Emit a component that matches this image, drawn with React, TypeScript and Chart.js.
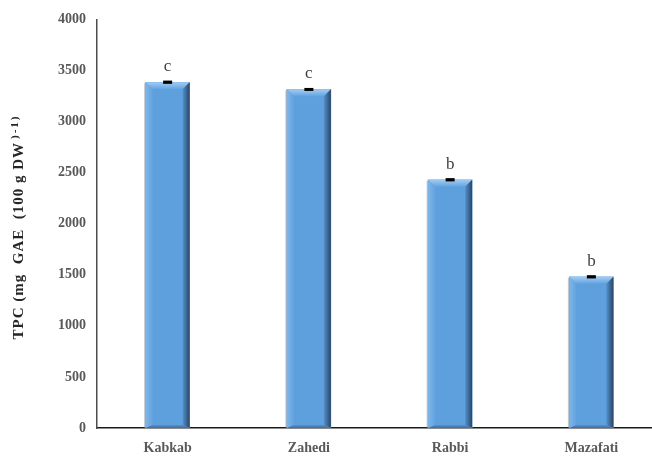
import React, { useEffect, useRef } from "react";
import { Chart, registerables } from "chart.js";

Chart.register(...registerables);

// Total phenolic content by date cultivar
const cultivars = ["Kabkab", "Zahedi", "Rabbi", "Mazafati"];
const tpcValues = [3385, 3315, 2430, 1480];
const tpcErrors = [16, 14, 16, 16];
const sigLetters = ["c", "c", "b", "b"];
const yTicks = [0, 500, 1000, 1500, 2000, 2500, 3000, 3500, 4000];

const SERIF = '"Liberation Serif", "Times New Roman", serif';
const BAR_FACE = "#5EA0DE";

// Bevelled bar faces, error caps and significance letters
const barDecor = {
  id: "barDecor",
  afterDatasetsDraw(chart: any) {
    const ctx = chart.ctx as CanvasRenderingContext2D;
    const meta = chart.getDatasetMeta(0);
    const yScale = chart.scales.y;
    meta.data.forEach((bar: any, i: number) => {
      const { x, y, base, width } = bar.getProps(["x", "y", "base", "width"], true);
      const l = x - width / 2;
      const r = x + width / 2;
      const t = y;
      const b = base;
      const bv = 7;
      ctx.save();
      // left shadow line
      ctx.fillStyle = "rgba(120,135,150,0.45)";
      ctx.fillRect(l - 1.5, t + 1, 1.5, b - t - 1);
      // top bevel
      let g = ctx.createLinearGradient(0, t, 0, t + bv);
      g.addColorStop(0, "#a2cdf3");
      g.addColorStop(1, "#62a3e0");
      ctx.fillStyle = g;
      ctx.beginPath();
      ctx.moveTo(l, t);
      ctx.lineTo(r, t);
      ctx.lineTo(r - bv, t + bv);
      ctx.lineTo(l + bv, t + bv);
      ctx.closePath();
      ctx.fill();
      // left bevel
      g = ctx.createLinearGradient(l, 0, l + bv, 0);
      g.addColorStop(0, "#7fb6e8");
      g.addColorStop(1, "#62a3e0");
      ctx.fillStyle = g;
      ctx.beginPath();
      ctx.moveTo(l, t);
      ctx.lineTo(l + bv, t + bv);
      ctx.lineTo(l + bv, b - 3);
      ctx.lineTo(l, b);
      ctx.closePath();
      ctx.fill();
      // right bevel
      g = ctx.createLinearGradient(r - bv, 0, r, 0);
      g.addColorStop(0, "#5490ca");
      g.addColorStop(1, "#284669");
      ctx.fillStyle = g;
      ctx.beginPath();
      ctx.moveTo(r, t);
      ctx.lineTo(r - bv, t + bv);
      ctx.lineTo(r - bv, b - 3);
      ctx.lineTo(r, b);
      ctx.closePath();
      ctx.fill();
      // bottom bevel
      g = ctx.createLinearGradient(0, b - 3, 0, b);
      g.addColorStop(0, "#5592cc");
      g.addColorStop(1, "#3d6c9c");
      ctx.fillStyle = g;
      ctx.beginPath();
      ctx.moveTo(l, b);
      ctx.lineTo(l + bv, b - 3);
      ctx.lineTo(r - bv, b - 3);
      ctx.lineTo(r, b);
      ctx.closePath();
      ctx.fill();

      // error cap
      const v = tpcValues[i];
      const e = tpcErrors[i];
      const yHi = yScale.getPixelForValue(v + e);
      const yLo = yScale.getPixelForValue(v - e);
      ctx.fillStyle = "#000";
      ctx.fillRect(x - 4.5, yHi, 9, Math.max(3, yLo - yHi));

      // significance letter
      ctx.fillStyle = "#404040";
      ctx.font = `17px ${SERIF}`;
      ctx.textAlign = "center";
      ctx.textBaseline = "alphabetic";
      ctx.fillText(sigLetters[i], x, t - 11);
      ctx.restore();
    });
  },
};

// Rotated y-axis title with superscript exponent
const yTitle = {
  id: "yTitle",
  afterDraw(chart: any) {
    const ctx = chart.ctx as CanvasRenderingContext2D;
    const main = "TPC (mg  GAE  (100 g DW";
    const sup = ")-1)";
    const mainFont = `bold 15px ${SERIF}`;
    const supFont = `bold 11px ${SERIF}`;
    ctx.save();
    (ctx as any).letterSpacing = "1px";
    ctx.font = mainFont;
    const wMain = ctx.measureText(main).width;
    (ctx as any).letterSpacing = "2px";
    ctx.font = supFont;
    const wSup = ctx.measureText(sup).width;
    const total = wMain + wSup + 3;
    const cy = 227;
    ctx.translate(19, cy);
    ctx.rotate(-Math.PI / 2);
    ctx.fillStyle = "#262626";
    ctx.textAlign = "left";
    ctx.textBaseline = "middle";
    (ctx as any).letterSpacing = "1px";
    ctx.font = mainFont;
    ctx.fillText(main, -total / 2, 0);
    (ctx as any).letterSpacing = "2px";
    ctx.font = supFont;
    ctx.fillText(sup, -total / 2 + wMain + 3, -4);
    ctx.restore();
  },
};

export default function App() {
  const canvasRef = useRef<HTMLCanvasElement | null>(null);

  useEffect(() => {
    if (!canvasRef.current) return;
    const chart = new Chart(canvasRef.current, {
      type: "bar",
      data: {
        labels: cultivars,
        datasets: [
          {
            data: tpcValues,
            backgroundColor: BAR_FACE,
            borderWidth: 0,
            barThickness: 44,
          },
        ],
      },
      options: {
        responsive: false,
        animation: false,
        layout: { padding: { top: 19, left: 0, right: 0, bottom: 0 } },
        plugins: {
          legend: { display: false },
          tooltip: { enabled: false },
        },
        scales: {
          x: {
            grid: { display: false, drawTicks: false },
            border: { display: true, color: "#1a1a1a", width: 1.5 },
            ticks: {
              color: "#595959",
              font: { family: SERIF, size: 14, weight: "bold" },
              padding: 12,
            },
            afterFit: (s: any) => {
              s.height = 31;
            },
          },
          y: {
            min: 0,
            max: 4000,
            grid: { display: false, drawTicks: false },
            border: { display: true, color: "#4d4d4d", width: 1.5 },
            afterBuildTicks: (s: any) => {
              s.ticks = yTicks.map((v) => ({ value: v }));
            },
            ticks: {
              color: "#595959",
              font: { family: SERIF, size: 14, weight: "bold" },
              padding: 11,
              callback: (v: any) => String(v),
            },
            afterFit: (s: any) => {
              s.width = 97;
            },
          },
        },
      },
      plugins: [barDecor, yTitle],
    });
    return () => chart.destroy();
  }, []);

  return (
    <div
      style={{
        position: "fixed",
        left: 0,
        top: 0,
        width: 652,
        height: 459,
        overflow: "hidden",
        background: "#fff",
      }}
    >
      <canvas ref={canvasRef} width={662} height={459} style={{ display: "block" }} />
    </div>
  );
}
